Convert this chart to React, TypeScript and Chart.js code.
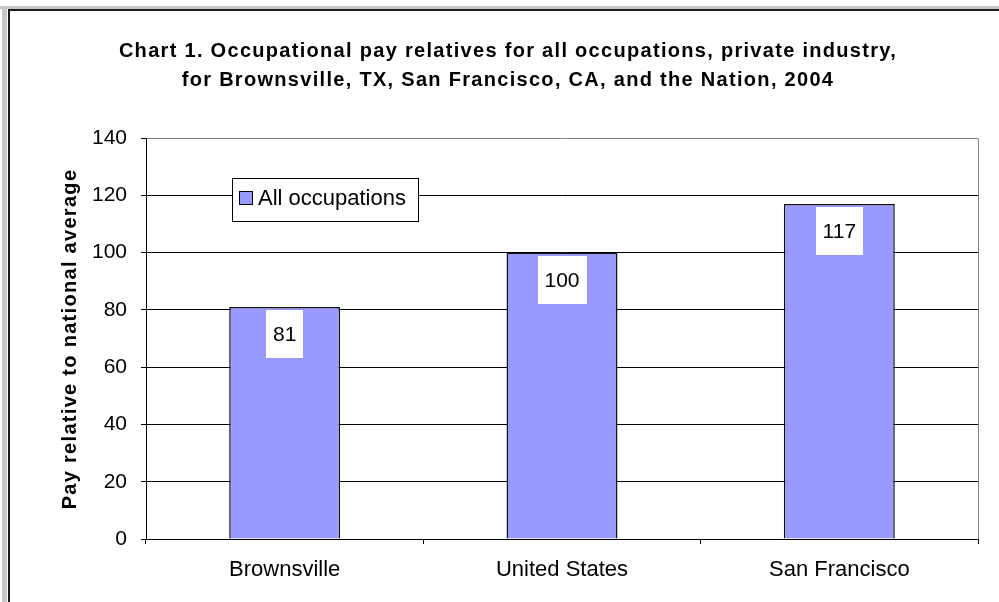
import React, { useEffect, useRef } from "react";
import { Chart, registerables } from "chart.js";

Chart.register(...registerables);

const categories = ["Brownsville", "United States", "San Francisco"];
const seriesName = "All occupations";
const values = [81, 100, 117];
const yTicks = [0, 20, 40, 60, 80, 100, 120, 140];
const titleLines = [
  "Chart 1. Occupational pay relatives for all occupations, private industry,",
  "for Brownsville, TX, San Francisco, CA, and the Nation, 2004",
];
const yTitle = "Pay relative to national average";

const FONT = "'Liberation Sans', Arial, sans-serif";
const BAR = "#9999FF";

const decorPlugin = {
  id: "decor",
  beforeDraw(chart: any) {
    const ctx = chart.ctx;
    const W = chart.width;
    const H = chart.height;
    ctx.save();
    ctx.fillStyle = "#ffffff";
    ctx.fillRect(0, 0, W, H);
    ctx.fillStyle = "#c8c8c8";
    ctx.fillRect(0, 6, W, 3);
    ctx.fillRect(2, 6, 5, H);
    ctx.fillStyle = "#1a1a1a";
    ctx.fillRect(8, 9, W, 2);
    ctx.fillRect(8, 9, 2, H);
    ctx.restore();
  },
  afterDatasetsDraw(chart: any) {
    const ctx = chart.ctx;
    const area = chart.chartArea;
    ctx.save();
    ctx.strokeStyle = "#808080";
    ctx.lineWidth = 1;
    ctx.beginPath();
    ctx.moveTo(Math.round(area.right) + 0.5, Math.round(area.top) + 0.5);
    ctx.lineTo(Math.round(area.right) + 0.5, Math.round(area.bottom) + 0.5);
    ctx.stroke();

    // data labels
    const meta = chart.getDatasetMeta(0);
    ctx.font = `21px ${FONT}`;
    meta.data.forEach((bar: any, i: number) => {
      const txt = String(values[i]);
      const tw = ctx.measureText(txt).width;
      const bw = Math.round(tw + 14);
      const bh = 48;
      const bx = Math.round(bar.x - bw / 2);
      const by = Math.round(bar.y + 3);
      ctx.fillStyle = "#ffffff";
      ctx.fillRect(bx, by, bw, bh);
      ctx.fillStyle = "#000000";
      ctx.textAlign = "center";
      ctx.textBaseline = "middle";
      ctx.fillText(txt, bar.x, by + bh / 2 + 1);
    });

    // legend
    const lx = 232, ly = 178, lw = 186, lh = 43;
    ctx.fillStyle = "#ffffff";
    ctx.fillRect(lx, ly, lw, lh);
    ctx.strokeStyle = "#000000";
    ctx.lineWidth = 1;
    ctx.strokeRect(lx + 0.5, ly + 0.5, lw, lh);
    ctx.fillStyle = BAR;
    ctx.fillRect(240, 192, 12, 12);
    ctx.strokeRect(239.5, 191.5, 13, 13);
    ctx.fillStyle = "#000000";
    ctx.textAlign = "left";
    ctx.textBaseline = "middle";
    ctx.font = `22px ${FONT}`;
    ctx.fillText(seriesName, 258, 199);

    // title
    ctx.font = `bold 20px ${FONT}`;
    (ctx as any).letterSpacing = "1.3px";
    ctx.textAlign = "center";
    ctx.fillText(titleLines[0], 508, 51);
    ctx.fillText(titleLines[1], 508, 80);

    // y title
    ctx.translate(70, 339);
    ctx.rotate(-Math.PI / 2);
    ctx.fillText(yTitle, 0, 0);
    ctx.restore();
  },
};

export default function App() {
  const ref = useRef<HTMLCanvasElement>(null);
  useEffect(() => {
    if (!ref.current) return;
    const chart = new Chart(ref.current, {
      type: "bar",
      data: {
        labels: categories,
        datasets: [
          {
            label: seriesName,
            data: values,
            backgroundColor: BAR,
            borderColor: "#111111",
            borderWidth: 1.5,
            barPercentage: 0.4,
            categoryPercentage: 1,
          },
        ],
      },
      options: {
        responsive: false,
        animation: false,
        devicePixelRatio: 1,
        layout: { padding: { left: 10, right: 21, top: 138, bottom: 0 } },
        plugins: {
          legend: { display: false },
          title: { display: false },
          tooltip: { enabled: false },
        },
        scales: {
          x: {
            afterFit(scale: any) {
              scale.height = 63;
            },
            grid: {
              display: true,
              drawOnChartArea: false,
              drawTicks: true,
              tickLength: 5,
              color: "#000000",
              offset: true,
            },
            border: { display: true, color: "#000000", width: 1 },
            ticks: {
              color: "#000000",
              font: { family: FONT, size: 22 },
              padding: 13,
              maxRotation: 0,
            },
          },
          y: {
            min: 0,
            max: 140,
            afterFit(scale: any) {
              scale.width = 136;
            },
            afterBuildTicks(scale: any) {
              scale.ticks = yTicks.map((v) => ({ value: v }));
            },
            grid: {
              color: (c: any) => (c.tick && c.tick.value === 140 ? "#808080" : "#000000"),
              lineWidth: 1,
              tickLength: 5,
              tickColor: "#000000",
            },
            border: { display: true, color: "#000000", width: 1 },
            ticks: {
              color: "#000000",
              font: { family: FONT, size: 21 },
              padding: 14,
            },
          },
        },
      },
      plugins: [decorPlugin],
    });
    return () => chart.destroy();
  }, []);
  return (
    <div style={{ position: "absolute", left: 0, top: 0, width: 999, height: 602 }}>
      <canvas ref={ref} width={999} height={602} style={{ width: 999, height: 602 }} />
    </div>
  );
}
